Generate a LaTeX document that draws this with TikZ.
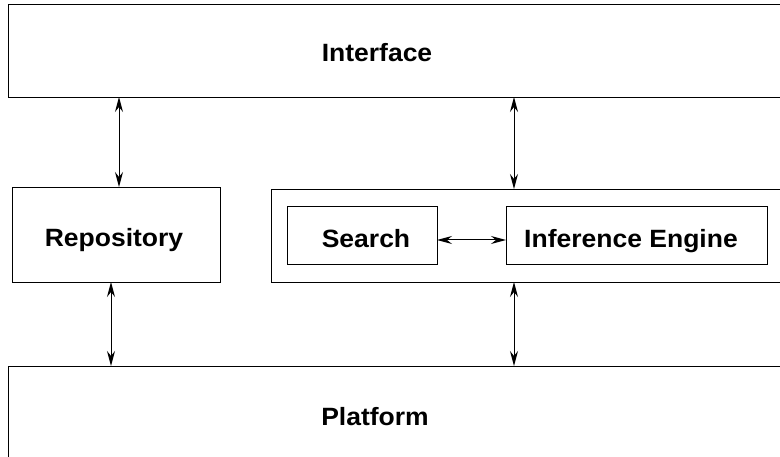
\documentclass[tikz,border=0pt]{standalone}
\usepackage{fontspec}
\setmainfont{Liberation Sans}[FakeStretch=1.06]
\usetikzlibrary{arrows.meta}
\begin{document}
\begin{tikzpicture}[x=1pt,y=-1pt,
  box/.style={draw, line width=0.9pt, inner sep=0pt, outer sep=0pt},
  lbl/.style={anchor=base, inner sep=0pt, font=\fontsize{25}{30}\selectfont\bfseries},
  link/.style={line width=1pt, {Stealth[length=15pt,width=8pt,inset=5pt]}-{Stealth[length=15pt,width=8pt,inset=5pt]}}]
\useasboundingbox (0,0) rectangle (780,457);
\clip (0,0) rectangle (780,457);
\fill[white] (0,0) rectangle (780,457);

% layer boxes
\node[box, minimum width=792, minimum height=93]  (interface) at (404,50.5) {};
\node[box, minimum width=792, minimum height=114] (platform)  at (404,423)  {};
\node[box, minimum width=208, minimum height=95]  (repo)      at (116,234.5) {};
\node[box, minimum width=529, minimum height=93]  (core)      at (535.5,235.5) {};
\node[box, minimum width=150, minimum height=58]  (search)    at (362,235) {};
\node[box, minimum width=261, minimum height=58]  (engine)    at (636.5,235) {};

% labels
\node[lbl] (interfaceT) at (377,61.7) {Interface};
\node[lbl] (platformT)  at (375,425)  {Platform};
\node[lbl] (repoT)      at (114,247)  {Repository};
\node[lbl] (searchT)    at (366,247.5) {Search};
\node[lbl] (engineT)    at (631,247.5) {Inference Engine};

% connectors
\draw[link] (119,0 |- interface.south) -- (119,0 |- repo.north);
\draw[link] (514,0 |- interface.south) -- (514,0 |- core.north);
\draw[link] (111,0 |- repo.south) -- (111,0 |- platform.north);
\draw[link] (514,0 |- core.south) -- (514,0 |- platform.north);
\draw[link] (search.east |- 0,240) -- (engine.west |- 0,240);
\end{tikzpicture}
\end{document}
